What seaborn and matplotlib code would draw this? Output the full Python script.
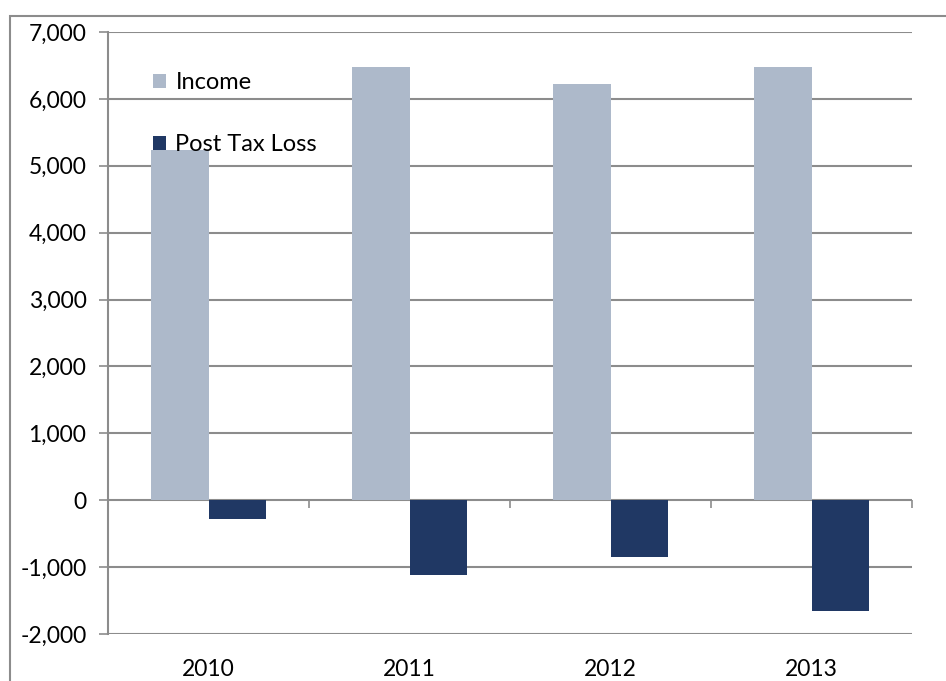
import matplotlib
matplotlib.use("Agg")
import matplotlib.pyplot as plt
import seaborn as sns
import pandas as pd
from matplotlib.patches import Rectangle
from matplotlib.ticker import FuncFormatter, MultipleLocator

years = ["2010", "2011", "2012", "2013"]
income = [5230, 6470, 6230, 6470]
post_tax_loss = [-285, -1120, -850, -1650]
series_names = ["Income", "Post Tax Loss"]
colors = ["#ADB9CA", "#203864"]

df = pd.DataFrame({
    "Year": years * 2,
    "Value": income + post_tax_loss,
    "Series": [series_names[0]] * 4 + [series_names[1]] * 4,
})

sns.set_theme(style="white")
plt.rcParams["font.family"] = ["Lato", "DejaVu Sans"]

fig = plt.figure(figsize=(9.46, 6.81), dpi=100)
ax = fig.add_axes([108 / 946, 1 - 634 / 681, (912 - 108) / 946, (634 - 32) / 681])

sns.barplot(data=df, x="Year", y="Value", hue="Series", palette=colors,
            width=0.57, gap=0, ax=ax, saturation=1, legend=True, errorbar=None,
            linewidth=0)

ax.set_xlim(-0.5, 3.5)
ax.set_ylim(-2000, 7000)
ax.yaxis.set_major_locator(MultipleLocator(1000))
ax.yaxis.set_major_formatter(FuncFormatter(lambda v, p: f"{int(v):,}"))
ax.grid(axis="y", color="#8C8C8C", linewidth=1.5)
ax.set_axisbelow(True)
for s in ["top", "right", "bottom"]:
    ax.spines[s].set_visible(False)
ax.spines["left"].set_color("#8C8C8C")
ax.spines["left"].set_linewidth(1.5)
ax.tick_params(axis="y", direction="out", length=6.5, width=1.2, color="#8C8C8C",
               pad=9, labelsize=16.5, labelcolor="black", left=True)
ax.tick_params(axis="x", length=0, pad=18, labelsize=16.5, labelcolor="black")
ax.set_xlabel("")
ax.set_ylabel("")

# category-boundary ticks on the zero line
sec = ax.secondary_xaxis(2000 / 9000)
sec.set_xticks([-0.5, 0.5, 1.5, 2.5, 3.5])
sec.set_xticklabels([])
sec.tick_params(axis="x", direction="out", length=6, width=1.2, color="#8C8C8C")
sec.spines["bottom"].set_visible(False)

leg = ax.legend(loc="upper left", bbox_to_anchor=((153 - 108) / 804, (634 - 72) / 602),
                frameon=False, fontsize=17, handlelength=0.55, handleheight=0.55,
                handletextpad=0.4, labelspacing=1.75, borderpad=0, borderaxespad=0)
leg.set_zorder(5)
for t in leg.get_texts():
    t.set_color("black")
for h in leg.legend_handles:
    h.set_linewidth(0)

# outer chart frame
fig.add_artist(Rectangle((10 / 946, -0.2), 2, 1 - 16 / 681 + 0.2, transform=fig.transFigure,
                         fill=False, edgecolor="#8C8C8C", linewidth=1.5, clip_on=False))

fig.savefig("out.png", dpi=100)
